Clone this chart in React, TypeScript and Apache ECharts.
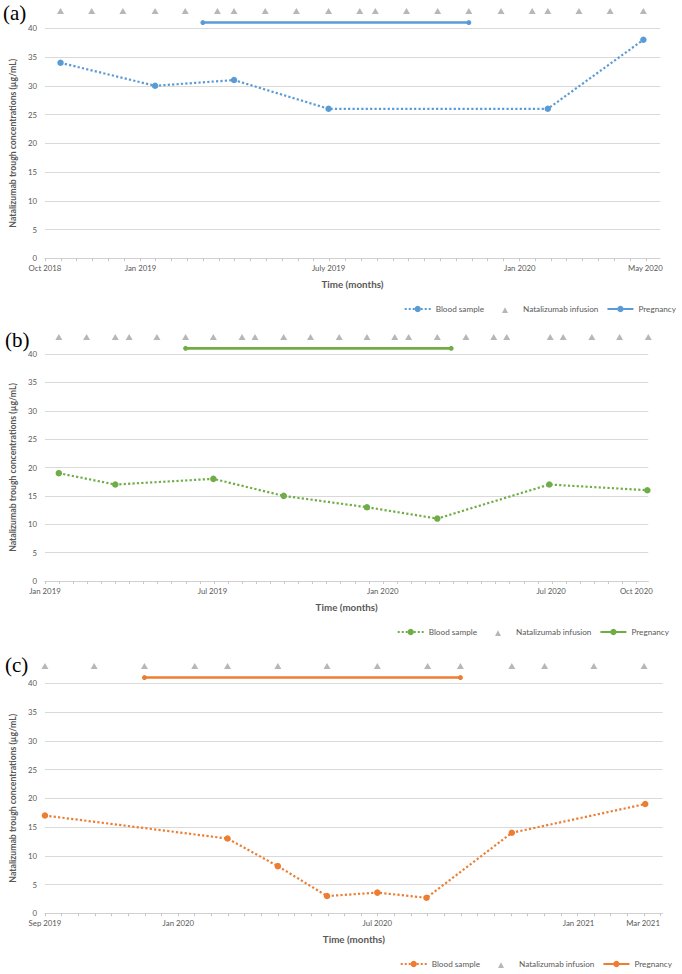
import React, { useEffect, useRef } from "react";
import * as echarts from "echarts";

// ---------- data ----------
const PANEL_LABELS = ["(a)", "(b)", "(c)"];
const Y_TITLE = "Natalizumab trough concentrations (µg/mL)";
const X_TITLE = "Time (months)";
const SERIES_NAMES = ["Blood sample", "Natalizumab infusion", "Pregnancy"];
const Y_TICKS = { min: 0, max: 40, step: 5 };
const INFUSION_LEVEL = 43;
const PREGNANCY_LEVEL = 41;

// Panel (a)
const A_RANGE = ["2018-10-01", "2020-05-15"];
const A_LABEL_DATES = ["2018-10-01", "2019-01-01", "2019-07-01", "2020-01-01", "2020-05-01"];
const A_LABELS = ["Oct 2018", "Jan 2019", "July 2019", "Jan 2020", "May 2020"];
const A_SAMPLE_DATES = ["2018-10-16", "2019-01-15", "2019-04-01", "2019-07-01", "2020-01-28", "2020-04-29"];
const A_SAMPLE_VALUES = [34, 30, 31, 26, 26, 38];
const A_INFUSION_DATES = [
  "2018-10-16", "2018-11-15", "2018-12-15", "2019-01-15", "2019-02-13", "2019-03-16", "2019-04-01",
  "2019-05-01", "2019-05-31", "2019-07-01", "2019-07-31", "2019-08-15", "2019-09-14", "2019-10-14",
  "2019-11-13", "2019-12-14", "2020-01-13", "2020-01-28", "2020-02-27", "2020-03-28", "2020-04-29",
];
const A_PREGNANCY = ["2019-03-02", "2019-11-13"];

// Panel (b)
const B_RANGE = ["2019-01-01", "2020-10-14"];
const B_LABEL_DATES = ["2019-01-01", "2019-07-01", "2020-01-01", "2020-07-01", "2020-10-01"];
const B_LABELS = ["Jan 2019", "Jul 2019", "Jan 2020", "Jul 2020", "Oct 2020"];
const B_SAMPLE_DATES = ["2019-01-16", "2019-03-18", "2019-07-02", "2019-09-16", "2019-12-15", "2020-02-29", "2020-06-29", "2020-10-13"];
const B_SAMPLE_VALUES = [19, 17, 18, 15, 13, 11, 17, 16];
const B_INFUSION_DATES = [
  "2019-01-16", "2019-02-15", "2019-03-18", "2019-04-02", "2019-05-02", "2019-06-02", "2019-07-02",
  "2019-08-02", "2019-08-16", "2019-09-16", "2019-10-15", "2019-11-15", "2019-12-15", "2020-01-14",
  "2020-01-29", "2020-02-29", "2020-03-31", "2020-04-30", "2020-05-14", "2020-06-30", "2020-07-14",
  "2020-08-14", "2020-09-13", "2020-10-14",
];
const B_PREGNANCY = ["2019-06-02", "2020-03-15"];

// Panel (c)
const C_RANGE = ["2019-09-01", "2021-03-19"];
const C_LABEL_DATES = ["2019-09-01", "2020-01-01", "2020-07-01", "2021-01-01", "2021-03-01"];
const C_LABELS = ["Sep 2019", "Jan 2020", "Jul 2020", "Jan 2021", "Mar 2021"];
const C_SAMPLE_DATES = ["2019-09-01", "2020-02-15", "2020-04-01", "2020-05-16", "2020-07-01", "2020-08-15", "2020-11-01", "2021-03-03"];
const C_SAMPLE_VALUES = [17, 13, 8.2, 3, 3.6, 2.7, 14, 19];
const C_INFUSION_DATES = [
  "2019-09-01", "2019-10-16", "2019-12-01", "2020-01-16", "2020-02-15", "2020-04-01", "2020-05-16",
  "2020-07-01", "2020-08-16", "2020-09-15", "2020-11-01", "2020-12-01", "2021-01-15", "2021-03-02",
];
const C_PREGNANCY = ["2019-12-01", "2020-09-15"];

// ---------- helpers ----------
const DAY = 86400000;
const TICK_STEP_DAYS = 365.25 / 24; // half-month ticks
const t = (s: string) => new Date(s + "T00:00:00").getTime();
const tickValues = (range: string[]) => {
  const out: number[] = [];
  const end = t(range[1]) + 1000;
  for (let v = t(range[0]); v <= end; v += TICK_STEP_DAYS * DAY) out.push(v);
  return out;
};

const FONT = "Lato, 'Open Sans', sans-serif";
const TEXT = "#595959";
const GRID_LINE = "#D9D9D9";
const TRI = "#A5A5A5";
// small triangle centred in a 26x8 legend box
const TRI_ICON = "path://M0,0M26,8M10,8L13,2.2L16,8Z";

const panels = [
  {
    key: "a", color: "#5B9BD5", range: A_RANGE, labelDates: A_LABEL_DATES, labels: A_LABELS,
    sampleDates: A_SAMPLE_DATES, sampleValues: A_SAMPLE_VALUES, infusions: A_INFUSION_DATES, pregnancy: A_PREGNANCY,
    grid: { left: 34.3, right: 22, top: 28.3, height: 230 },
    yNameGap: 18.5, legend: { right: 6, top: 305 }, tag: { x: 3, y: 12.5 },
  },
  {
    key: "b", color: "#70AD47", range: B_RANGE, labelDates: B_LABEL_DATES, labels: B_LABELS,
    sampleDates: B_SAMPLE_DATES, sampleValues: B_SAMPLE_VALUES, infusions: B_INFUSION_DATES, pregnancy: B_PREGNANCY,
    grid: { left: 44.3, right: 33.7, top: 354, height: 227 },
    yNameGap: 26.5, legend: { right: 13, top: 628 }, tag: { x: 5, y: 340 },
  },
  {
    key: "c", color: "#ED7D31", range: C_RANGE, labelDates: C_LABEL_DATES, labels: C_LABELS,
    sampleDates: C_SAMPLE_DATES, sampleValues: C_SAMPLE_VALUES, infusions: C_INFUSION_DATES, pregnancy: C_PREGNANCY,
    grid: { left: 36.3, right: 19.3, top: 683.3, height: 230 },
    yNameGap: 18.5, legend: { right: 10, top: 960 }, tag: { x: 5, y: 665 },
  },
];

function buildOption() {
  const grid = panels.map((p) => ({ ...p.grid, containLabel: false }));
  const xAxis = panels.map((p, i) => {
    const labelVals = p.labelDates.map(t);
    return {
      type: "value",
      gridIndex: i,
      min: t(p.range[0]),
      max: t(p.range[1]),
      name: X_TITLE,
      nameLocation: "middle",
      nameGap: 20.5,
      nameTextStyle: { fontFamily: FONT, fontSize: 9.8, fontWeight: "bold", color: TEXT },
      axisLine: { show: true, lineStyle: { color: "#D0D0D0", width: 1 } },
      axisTick: { show: true, customValues: tickValues(p.range), length: 3, lineStyle: { color: "#C8C8C8" } },
      axisLabel: {
        show: true,
        customValues: labelVals,
        margin: 6,
        fontFamily: FONT,
        fontSize: 7.8,
        color: TEXT,
        hideOverlap: false,
        formatter: (v: number) => {
          const k = labelVals.findIndex((x) => Math.abs(x - v) < DAY / 2);
          return k >= 0 ? p.labels[k] : "";
        },
      },
      splitLine: { show: false },
    };
  });
  const yAxis = panels.map((p, i) => ({
    type: "value",
    gridIndex: i,
    min: Y_TICKS.min,
    max: Y_TICKS.max,
    interval: Y_TICKS.step,
    name: Y_TITLE,
    nameLocation: "middle",
    nameRotate: 90,
    nameGap: p.yNameGap,
    nameTextStyle: { fontFamily: FONT, fontSize: 8.7, fontWeight: "bold", color: TEXT },
    axisLine: { show: false },
    axisTick: { show: false },
    axisLabel: { fontFamily: FONT, fontSize: 7.8, color: TEXT, margin: 8 },
    splitLine: { show: true, lineStyle: { color: GRID_LINE, width: 1 } },
  }));

  const series: any[] = [];
  panels.forEach((p, i) => {
    series.push({
      name: `${SERIES_NAMES[0]}|${p.key}`,
      type: "line",
      xAxisIndex: i,
      yAxisIndex: i,
      data: p.sampleDates.map((d, k) => [t(d), p.sampleValues[k]]),
      symbol: "circle",
      symbolSize: 6.5,
      showSymbol: true,
      itemStyle: { color: p.color },
      lineStyle: { color: p.color, width: 2.2, type: "dotted" },
      clip: false,
      z: 3,
    });
    series.push({
      name: `${SERIES_NAMES[1]}|${p.key}`,
      type: "scatter",
      xAxisIndex: i,
      yAxisIndex: i,
      data: p.infusions.map((d) => [t(d), INFUSION_LEVEL]),
      symbol: "triangle",
      symbolSize: [7, 6],
      itemStyle: { color: TRI },
      clip: false,
      z: 2,
    });
    series.push({
      name: `${SERIES_NAMES[2]}|${p.key}`,
      type: "line",
      xAxisIndex: i,
      yAxisIndex: i,
      data: p.pregnancy.map((d) => [t(d), PREGNANCY_LEVEL]),
      symbol: "circle",
      symbolSize: 5,
      itemStyle: { color: p.color },
      lineStyle: { color: p.color, width: 2.6, type: "solid" },
      clip: false,
      z: 3,
    });
  });

  const legend = panels.map((p) => ({
    data: [
      { name: `${SERIES_NAMES[0]}|${p.key}` },
      { name: `${SERIES_NAMES[1]}|${p.key}`, icon: TRI_ICON },
      { name: `${SERIES_NAMES[2]}|${p.key}` },
    ],
    right: p.legend.right,
    top: p.legend.top,
    orient: "horizontal",
    padding: 0,
    itemWidth: 26,
    itemHeight: 8,
    itemGap: 8,
    selectedMode: false,
    formatter: (n: string) => n.split("|")[0],
    textStyle: { fontFamily: FONT, fontSize: 8.2, color: TEXT },
  }));

  const graphic = panels.map((p, i) => ({
    type: "text",
    x: p.tag.x,
    y: p.tag.y,
    style: {
      text: PANEL_LABELS[i],
      fontFamily: "'Liberation Serif', 'Times New Roman', serif",
      fontSize: 21,
      fill: "#000",
      verticalAlign: "middle",
      align: "left",
    },
  }));

  return {
    animation: false,
    backgroundColor: "#fff",
    grid,
    xAxis,
    yAxis,
    series,
    legend,
    graphic,
  };
}

export default function App() {
  const ref = useRef<HTMLDivElement>(null);
  useEffect(() => {
    const chart = echarts.init(ref.current!, null, { renderer: "svg" });
    chart.setOption(buildOption() as any);
    return () => chart.dispose();
  }, []);
  return (
    <div
      ref={ref}
      style={{ position: "fixed", left: 0, top: 0, width: 682, height: 974, background: "#fff" }}
    />
  );
}
